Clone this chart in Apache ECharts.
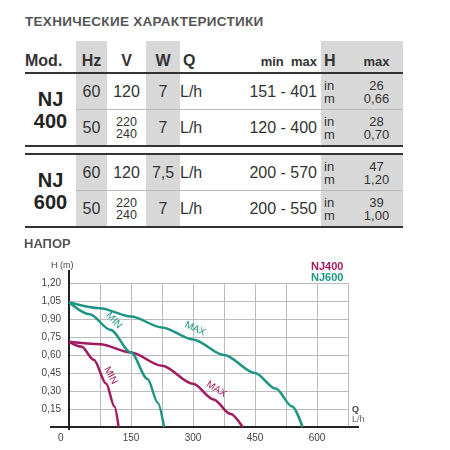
<!DOCTYPE html>
<html>
<head>
<meta charset="utf-8">
<script src="https://cdn.jsdelivr.net/npm/echarts@6/dist/echarts.min.js"></script>
<style>
  body { margin: 0; width: 450px; height: 450px; background: #fff; font-family: "Liberation Sans", Arial, sans-serif; color: #333; overflow: hidden; position: relative; }
  #title { position: absolute; left: 25px; top: 14px; font-size: 13.5px; font-weight: bold; color: #555; letter-spacing: 0.3px; }
  table { position: absolute; left: 25px; border-collapse: collapse; table-layout: fixed; }
  td { padding: 0; text-align: center; vertical-align: middle; font-size: 16px; }
  .g { background: #d8d8d8; }
  .hd td { font-weight: bold; height: 29px; font-size: 16px; vertical-align: bottom; padding-bottom: 2px; }
  .row td { height: 35px; border-top: 1px solid #bbb; }
  .small { font-size: 12.5px; line-height: 12px; }
  td.mod { font-weight: 900 !important; font-size: 20px; line-height: 22px; color: #222; }
  .unit { font-size: 13px; line-height: 13px; text-align: left; padding-left: 3px; }
  .hv { font-size: 13px; line-height: 13px; }
  #chart { position: absolute; left: 0; top: 240px; width: 450px; height: 210px; }
  #napor { position: absolute; left: 24px; top: 236px; font-size: 13px; font-weight: bold; color: #555; }
</style>
</head>
<body>
<div id="title">ТЕХНИЧЕСКИЕ ХАРАКТЕРИСТИКИ</div>
<div id="tables"></div>
<div id="chart"></div>
<div id="napor">НАПОР</div>
<script>
"use strict"

// table data
const models = ["NJ<br>400", "NJ<br>600"];
const hz = [["60", "50"], ["60", "50"]];
const volts = [["120", "220<br>240"], ["120", "220<br>240"]];
const watts = [["7", "7"], ["7,5", "7"]];
const qRange = [["151 - 401", "120 - 400"], ["200 - 570", "200 - 550"]];
const hMaxIn = [["26", "28"], ["47", "39"]];
const hMaxM = [["0,66", "0,70"], ["1,20", "1,00"]];

// chart data [Q, H]
const nj400Min = [[0, 0.71], [30, 0.67], [60, 0.56], [90, 0.36], [110, 0.17], [120, 0]];
const nj400Max = [[0, 0.71], [75, 0.69], [150, 0.62], [225, 0.51], [300, 0.36], [350, 0.23], [390, 0.11], [420, 0]];
const nj600Min = [[0, 1.04], [50, 0.94], [100, 0.81], [150, 0.62], [190, 0.40], [215, 0.20], [230, 0]];
const nj600Max = [[0, 1.04], [75, 0.99], [150, 0.92], [225, 0.83], [300, 0.73], [375, 0.60], [450, 0.45], [500, 0.32], [540, 0.17], [565, 0]];

const magenta = "#a31a60";
const teal = "#1f9584";

const widths = [51, 31, 39, 34, 40, 101, 29, 53];
const colgroup = "<colgroup>" + widths.map(w => `<col style="width:${w}px">`).join("") + "</colgroup>";

const buildTable = (m, top, header) => {
  let html = `<table style="top:${top}px;width:378px">` + colgroup;
  if (header) {
    html += `<tr class="hd"><td style="text-align:left">Mod.</td><td class="g">Hz</td><td>V</td><td class="g">W</td><td style="text-align:left;padding-left:3px">Q</td>` +
      `<td style="text-align:right;padding-right:4px"><span style="font-size:13px">min&nbsp; max</span></td><td class="g" style="text-align:left;padding-left:3px">H</td><td class="g"><span style="font-size:13px">max</span></td></tr>`;
  }
  for (let r = 0; r < 2; r++) {
    const v = volts[m][r];
    html += `<tr class="row">` +
      (r === 0 ? `<td rowspan="2" class="mod" style="border-top:2px solid #333">${models[m]}</td>` : "") +
      `<td class="g"${r === 0 ? ' style="border-top:2px solid #333"' : ''}>${hz[m][r]}</td>` +
      `<td class="${v.includes("<br>") ? 'small' : ''}"${r === 0 ? ' style="border-top:2px solid #333"' : ''}>${v}</td>` +
      `<td class="g"${r === 0 ? ' style="border-top:2px solid #333"' : ''}>${watts[m][r]}</td>` +
      `<td style="text-align:left;white-space:nowrap${r === 0 ? ';border-top:2px solid #333' : ''}">L/h</td>` +
      `<td style="text-align:right;padding-right:4px${r === 0 ? ';border-top:2px solid #333' : ''}">${qRange[m][r]}</td>` +
      `<td class="g unit"${r === 0 ? ' style="border-top:2px solid #333"' : ''}>in<br>m</td>` +
      `<td class="g hv"${r === 0 ? ' style="border-top:2px solid #333"' : ''}>${hMaxIn[m][r]}<br>${hMaxM[m][r]}</td></tr>`;
  }
  html += `<tr><td colspan="8" style="height:0;border-top:2px solid #333"></td></tr></table>`;
  return html;
};

document.getElementById("tables").innerHTML = buildTable(0, 41, true) + buildTable(1, 153, false);

const comma = v => v.toFixed(2).replace(".", ",");

const curve = (data, color, text, idx, rot) => ({
  type: "line",
  smooth: 0.3,
  smoothMonotone: "x",
  symbol: "none",
  lineStyle: { color: color, width: 2.5 },
  data: data.map((p, i) => i === idx ? {
    value: p,
    symbol: "circle", symbolSize: 0,
    label: { show: true, formatter: text, rotate: rot, color: color, fontSize: 10, position: "top", distance: 6 }
  } : p)
});

const chart = echarts.init(document.getElementById("chart"));
chart.setOption({
  animation: false,
  grid: { left: 69, right: 102, top: 43, bottom: 23 },
  xAxis: {
    type: "value", min: 0, max: 675, interval: 75,
    axisLine: { lineStyle: { color: "#222", width: 2 } },
    axisTick: { show: false },
    axisLabel: { color: "#444", fontSize: 10, margin: 6, formatter: v => v % 150 === 0 && v > 0 && v <= 600 ? String(v) : "" },
    splitLine: { lineStyle: { color: "#bbb" } }
  },
  yAxis: {
    type: "value", min: 0, max: 1.2, interval: 0.15,
    axisLine: { show: true, lineStyle: { color: "#222", width: 2 } },
    axisTick: { show: false },
    axisLabel: { color: "#444", fontSize: 10, margin: 8, formatter: v => v === 0 ? "" : comma(v) },
    splitLine: { lineStyle: { color: "#bbb" } }
  },
  graphic: [
    { type: "line", shape: { x1: 50, y1: 187, x2: 359, y2: 187 }, style: { stroke: "#222", lineWidth: 2 } },
    { type: "line", shape: { x1: 69, y1: 30, x2: 69, y2: 190 }, style: { stroke: "#222", lineWidth: 2 } },
    { type: "text", left: 58, top: 193, style: { text: "0", fill: "#444", fontSize: 10 } },
    { type: "text", left: 51, top: 21, style: { text: "H (m)", fill: "#444", fontSize: 9 } },
    { type: "text", left: 352, top: 165, style: { text: "Q", fill: "#444", fontSize: 9, fontWeight: "bold" } },
    { type: "text", left: 352, top: 175, style: { text: "L/h", fill: "#666", fontSize: 9 } },
    { type: "text", left: 311, top: 21, style: { text: "NJ400", fill: magenta, fontSize: 11, fontWeight: "bold" } },
    { type: "text", left: 311, top: 32, style: { text: "NJ600", fill: teal, fontSize: 11, fontWeight: "bold" } }
  ],
  series: [
    curve(nj400Min, magenta, "MIN", 3, -62),
    curve(nj400Max, magenta, "MAX", 5, -32),
    curve(nj600Min, teal, "MIN", 2, -48),
    curve(nj600Max, teal, "MAX", 4, -25)
  ]
});
</script>
</body>
</html>
